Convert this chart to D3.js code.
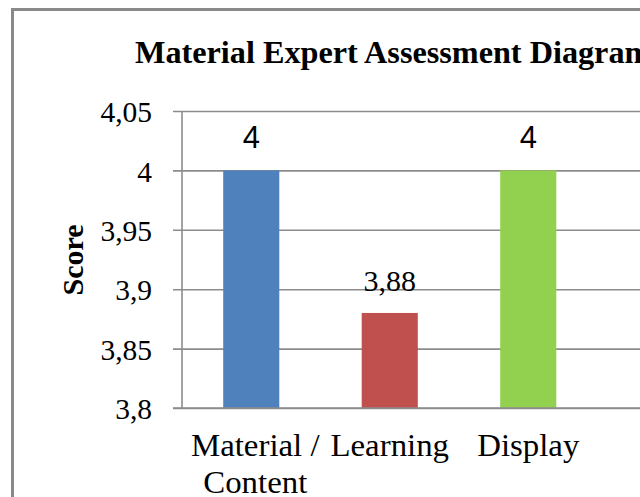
<!DOCTYPE html>
<html>
<head>
<meta charset="utf-8">
<script src="https://cdn.jsdelivr.net/npm/d3@7"></script>
<style>
  html, body { margin: 0; padding: 0; background: #fff; }
  svg { display: block; }
</style>
</head>
<body>
<svg id="chart" width="640" height="497"></svg>
<script>
const categories = [["Material /", "Content"], ["Learning"], ["Display"]];
const values = [4, 3.88, 4];
const colors = ["#4F81BD", "#C0504D", "#92D050"];
const yTicks = [3.8, 3.85, 3.9, 3.95, 4, 4.05];
const title = "Material Expert Assessment Diagram";
const yTitle = "Score";

const locale = d3.formatLocale({decimal: ",", thousands: ".", grouping: [3], currency: ["", ""]});
const fmt = v => locale.format("~g")(v);

const svg = d3.select("#chart");
const W = 640, H = 497;
const serif = "'Liberation Serif', 'Times New Roman', serif";
const sans = "'Liberation Sans', Arial, sans-serif";
const gridColor = "#8c8c8c";

// outer chart border (cropped frame)
svg.append("rect")
  .attr("x", 12.5).attr("y", 9.5)
  .attr("width", W + 20).attr("height", H + 20)
  .attr("fill", "#fff").attr("stroke", "#898989").attr("stroke-width", 3);

const plotLeft = 182, plotTop = 111, plotBottom = 408;
const step = 138.5;
const x = d3.scaleBand()
  .domain(d3.range(categories.length))
  .range([plotLeft, plotLeft + step * categories.length])
  .padding(0);
const y = d3.scaleLinear().domain([3.8, 4.05]).range([plotBottom, plotTop]);

// title
svg.append("text")
  .attr("transform", "translate(135,63) scale(1.04,1)")
  .attr("font-family", serif).attr("font-weight", "bold")
  .attr("font-size", 31).attr("fill", "#000")
  .text(title);

// y axis with gridlines
const yAxis = d3.axisLeft(y)
  .tickValues(yTicks)
  .tickFormat(fmt)
  .tickSize(-(W + 10 - plotLeft))
  .tickPadding(0);
const gy = svg.append("g").attr("transform", `translate(${plotLeft},0)`).call(yAxis);
gy.select(".domain").remove();
gy.selectAll(".tick line")
  .attr("x1", -9)
  .attr("stroke", gridColor).attr("stroke-width", 1.6);
gy.selectAll(".tick text")
  .attr("x", -30).attr("dy", "0.36em")
  .attr("font-family", serif).attr("font-size", 29.5).attr("fill", "#000");

// y axis line
svg.append("line")
  .attr("x1", plotLeft).attr("x2", plotLeft)
  .attr("y1", plotTop).attr("y2", plotBottom)
  .attr("stroke", gridColor).attr("stroke-width", 1.6);

// bars
const barW = x.bandwidth() * 0.405;
svg.append("g").selectAll("rect")
  .data(values)
  .join("rect")
  .attr("x", (d, i) => x(i) + x.bandwidth() / 2 - barW / 2)
  .attr("y", d => y(d))
  .attr("width", barW)
  .attr("height", d => y(3.8) - y(d))
  .attr("fill", (d, i) => colors[i]);

// x axis line (redraw on top)
svg.append("line")
  .attr("x1", plotLeft - 9).attr("x2", W + 10)
  .attr("y1", plotBottom).attr("y2", plotBottom)
  .attr("stroke", gridColor).attr("stroke-width", 1.6);

// value labels
svg.append("g").selectAll("text")
  .data(values)
  .join("text")
  .attr("x", (d, i) => x(i) + x.bandwidth() / 2)
  .attr("y", d => y(d) - 22)
  .attr("text-anchor", "middle")
  .attr("font-family", d => Number.isInteger(d) ? sans : serif)
  .attr("font-size", d => Number.isInteger(d) ? 31 : 30)
  .attr("fill", "#000")
  .text(d => fmt(d));

// category labels
const cat = svg.append("g").selectAll("text")
  .data(categories)
  .join("text")
  .attr("transform", (d, i) => `translate(${x(i) + x.bandwidth() / 2 + (d.length > 1 ? 4 : 0)},456) scale(1.06,1)`)
  .attr("text-anchor", "middle")
  .attr("font-family", serif).attr("font-size", 31).attr("fill", "#000");
cat.selectAll("tspan")
  .data(d => d)
  .join("tspan")
  .attr("x", 0)
  .attr("dy", (d, i) => i === 0 ? 0 : 37)
  .text(d => d);

// y title
svg.append("text")
  .attr("transform", "translate(83,260) rotate(-90)")
  .attr("text-anchor", "middle")
  .attr("font-family", serif).attr("font-weight", "bold")
  .attr("font-size", 30).attr("fill", "#000")
  .text(yTitle);
</script>
</body>
</html>
